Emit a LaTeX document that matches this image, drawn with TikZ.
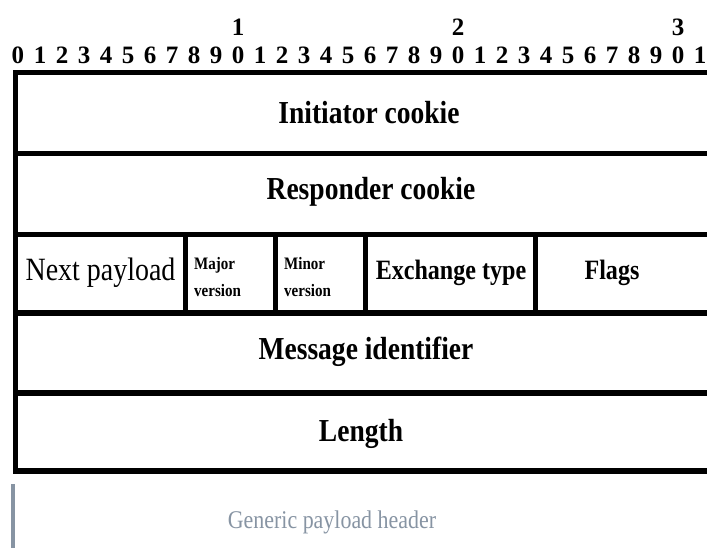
\documentclass[tikz,border=0pt]{standalone}
\usepackage{fontspec}
\setmainfont{Liberation Serif}
\newfontfamily\narrowserif[FakeStretch=0.86]{Liberation Serif}
\definecolor{captiongrey}{HTML}{8794A3}
\tikzset{
  rule/.style={line width=5.5pt, line cap=square},
  digit/.style={font=\fontsize{25}{25}\selectfont\bfseries, inner sep=0pt},
  field/.style={font=\narrowserif\fontsize{32}{34}\selectfont\bfseries, inner sep=0pt},
  smallfield/.style={font=\narrowserif\fontsize{28}{30}\selectfont\bfseries, inner sep=0pt},
  tinyfield/.style={font=\narrowserif\fontsize{17.5}{27}\selectfont\bfseries, inner sep=0pt, align=left, anchor=west},
  caption/.style={font=\narrowserif\fontsize{25.5}{27}\selectfont, text=captiongrey, inner sep=0pt}
}
\begin{document}
\begin{tikzpicture}[x=1pt,y=-1pt]
\useasboundingbox (0,0) rectangle (707,548);
\begin{scope}
\clip (0,0) rectangle (707,548);

% bit ruler: tens and units
\foreach \t in {1,2,3}
  \node[digit] (tens\t) at ({18+220*\t},27) {\t};
\foreach \i in {0,...,31}{
  \pgfmathtruncatemacro{\u}{mod(\i,10)}
  \node[digit] (bit\i) at ({18+22*\i},55) {\u};
}

% header grid
\coordinate (tl) at (15.5,72.5);
\coordinate (bl) at (15.5,471);
\draw[rule] (720,72.5) -- (tl) -- (bl) -- (720,471);
\foreach \y in {153.5,234.5,313,393}
  \draw[rule] (15.5,\y) -- (720,\y);
\foreach \x in {185.5,275.5,365.5,535.5}
  \draw[rule, line cap=butt] (\x,234.5) -- (\x,313);

% field labels
\node[field] (icookie) at (369,113) {Initiator cookie};
\node[field] (rcookie) at (371,192) {Responder cookie};
\node[font=\narrowserif\fontsize{32.5}{34}\selectfont, inner sep=0pt] (next) at (100.5,273) {Next payload};
\node[tinyfield] (major) at (194,277) {Major\\version};
\node[tinyfield] (minor) at (284,277) {Minor\\version};
\node[smallfield] (exch) at (451,273) {Exchange type};
\node[smallfield] (flags) at (612,273) {Flags};
\node[field] (msgid) at (366,352) {Message identifier};
\node[field] (length) at (361,434) {Length};

% caption with side bar
\coordinate (bartop) at (12.5,484);
\coordinate (barbot) at (12.5,550);
\draw[captiongrey, line width=4pt] (bartop) -- (barbot);
\node[caption] (cap) at (332,522) {Generic payload header};
\end{scope}
\end{tikzpicture}
\end{document}
